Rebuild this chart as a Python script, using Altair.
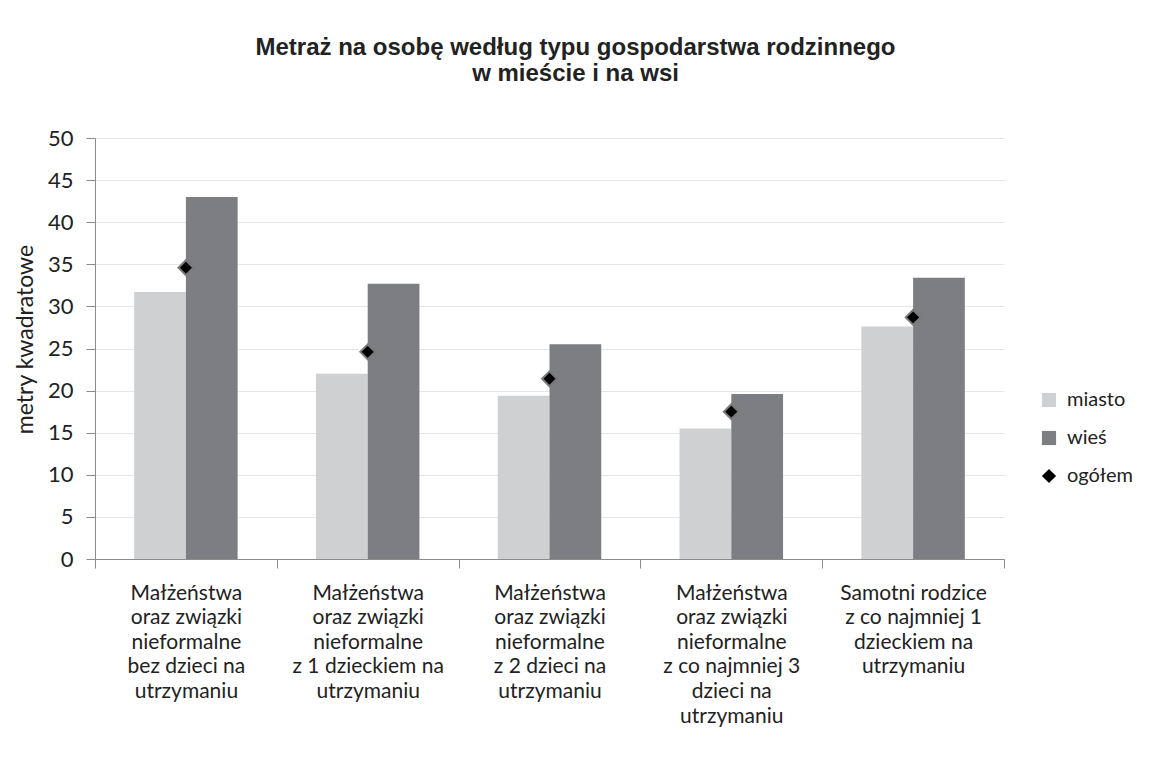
import altair as alt
import pandas as pd

categories = [
    "Małżeństwa\noraz  związki\nnieformalne\nbez dzieci na\nutrzymaniu",
    "Małżeństwa\noraz związki\nnieformalne\nz 1 dzieckiem na\nutrzymaniu",
    "Małżeństwa\noraz związki\nnieformalne\nz 2 dzieci na\nutrzymaniu",
    "Małżeństwa\noraz związki\nnieformalne\nz co najmniej 3\ndzieci na\nutrzymaniu",
    "Samotni rodzice\nz co najmniej 1\ndzieckiem na\nutrzymaniu",
]
miasto = [31.7, 22.0, 19.4, 15.5, 27.6]
wies = [43.0, 32.7, 25.5, 19.6, 33.4]
ogolem = [34.6, 24.6, 21.4, 17.5, 28.7]
series = ["miasto", "wieś", "ogółem"]
colors = ["#cfd0d2", "#7d7e83", "#000000"]
shapes = ["square", "square", "diamond"]

bars_df = pd.DataFrame(
    [{"kat": c, "seria": "miasto", "v": v} for c, v in zip(categories, miasto)]
    + [{"kat": c, "seria": "wieś", "v": v} for c, v in zip(categories, wies)]
)
tot_df = pd.DataFrame([{"kat": c, "seria": "ogółem", "v": v} for c, v in zip(categories, ogolem)])

FONT = "Lato"
TXT = "#222222"
AX = "#8c8c8c"

x_enc = alt.X(
    "kat:N",
    sort=categories,
    scale=alt.Scale(paddingInner=0, paddingOuter=0),
    axis=alt.Axis(
        title=None,
        labelAngle=0,
        labelFont=FONT,
        labelFontSize=21,
        labelColor=TXT,
        labelLineHeight=24.6,
        labelBaseline="top",
        labelPadding=14,
        labelExpr="split(datum.label, '\\n')",
        tickBand="extent",
        tickSize=9,
        tickColor=AX,
        domainColor=AX,
        grid=False,
    ),
)
y_enc = alt.Y(
    "v:Q",
    scale=alt.Scale(domain=[0, 50], nice=False),
    axis=alt.Axis(
        values=list(range(0, 51, 5)),
        title="metry kwadratowe",
        titleFont=FONT,
        titleFontSize=23,
        titleFontWeight="normal",
        titleColor=TXT,
        titleAngle=270,
        titleX=-70,
        titleY=201,
        titleAlign="center",
        titleBaseline="middle",
        labelFont=FONT,
        labelFontSize=22,
        labelColor=TXT,
        labelPadding=13,
        tickSize=9,
        tickColor=AX,
        domainColor=AX,
        gridColor="#e6e6e6",
    ),
)
legend_props = dict(
    title=None,
    orient="none",
    legendX=944,
    legendY=252,
    labelFont=FONT,
    labelFontSize=20,
    labelColor=TXT,
    symbolSize=200,
    symbolStrokeWidth=0,
    rowPadding=18,
    labelOffset=8,
    padding=0,
    labelLimit=200,
)
color_enc = alt.Color(
    "seria:N",
    scale=alt.Scale(domain=series, range=colors),
    legend=alt.Legend(**legend_props),
)

bars = alt.Chart(bars_df).mark_bar().encode(
    x=x_enc,
    xOffset=alt.XOffset("seria:N", sort=["miasto", "wieś"],
                        scale=alt.Scale(paddingInner=0, paddingOuter=0.757)),
    y=y_enc,
    color=color_enc,
)

points = alt.Chart(tot_df).mark_point(filled=True, size=220, stroke="#7a7a7a", strokeWidth=2, opacity=1).encode(
    x=x_enc,
    y=y_enc,
    color=color_enc,
    shape=alt.Shape("seria:N", scale=alt.Scale(domain=series, range=shapes),
                    legend=alt.Legend(**legend_props)),
)

chart = (
    alt.layer(bars, points)
    .properties(
        width=909,
        height=421,
        autosize=alt.AutoSizeParams(type="none"),
        padding={"left": 87, "top": 130, "right": 139, "bottom": 196},
        title=alt.TitleParams(
            text=["Metraż na osobę według typu gospodarstwa rodzinnego", "w mieście i na wsi"],
            font="Liberation Sans",
            fontSize=24,
            fontWeight="bold",
            color=TXT,
            anchor="middle",
            dx=26,
            offset=41,
            lineHeight=26,
        ),
    )
    .configure_view(strokeWidth=0)
)

chart.save("out.html", embed_options={"renderer": "svg", "actions": False})
